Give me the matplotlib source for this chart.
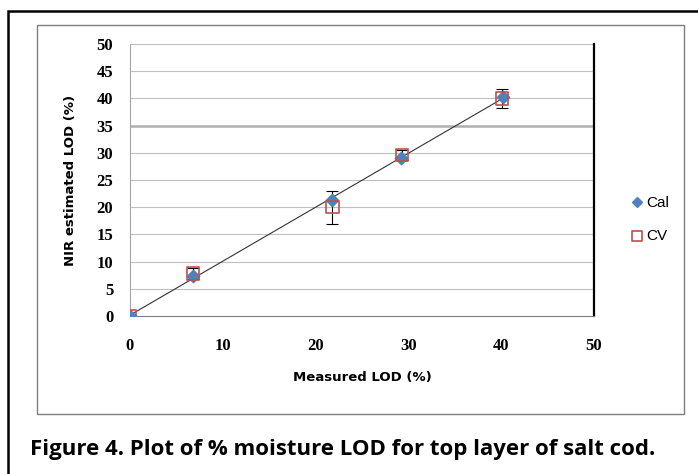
import numpy as np
import matplotlib.pyplot as plt
from matplotlib.patches import Rectangle

# measured vs NIR estimated LOD (%)
cal_x = [0.0, 6.8, 21.8, 29.2, 40.2]
cal_y = [0.0, 7.4, 21.3, 29.0, 40.3]
cv_x = [0.0, 6.8, 21.8, 29.3, 40.1]
cv_y = [0.0, 7.8, 20.0, 29.6, 40.0]
cv_err = [0.0, 1.0, 3.0, 1.0, 1.7]

ticks = [0, 5, 10, 15, 20, 25, 30, 35, 40, 45, 50]
xticks = [0, 10, 20, 30, 40, 50]

blue = '#4F81BD'
red = '#C0504D'

fig = plt.figure(figsize=(6.98, 4.74), dpi=100)

# outer black frame and inner grey chart frame
fig.patches.append(Rectangle((8 / 698, -0.05), 1.0, 1 - 11 / 474 + 0.05,
                             transform=fig.transFigure, fill=False,
                             edgecolor='black', linewidth=1.8))
fig.patches.append(Rectangle((37 / 698, 1 - 414 / 474), (684 - 37) / 698, (414 - 25) / 474,
                             transform=fig.transFigure, fill=False,
                             edgecolor='#7f7f7f', linewidth=1.0))

ax = fig.add_axes([130 / 698, 158 / 474, 464 / 698, 272 / 474])

for t in ticks[1:]:
    ax.axhline(t, color='#bfbfbf' if t != 35 else '#b0b0b0',
               linewidth=0.8 if t != 35 else 1.8, zorder=0)

fit = np.polyfit(cal_x, cal_y, 1)
tx = np.array([cal_x[0], cal_x[-1]])
ax.plot(tx, np.polyval(fit, tx), color='#333333', linewidth=0.8, zorder=2)

ax.errorbar(cv_x, cv_y, yerr=cv_err, fmt='none', ecolor='black',
            elinewidth=0.8, capsize=4, capthick=0.8, zorder=3)
ax.scatter(cal_x, cal_y, marker='D', s=40, color=blue, zorder=4, label='Cal')
ax.scatter(cv_x, cv_y, marker='s', s=80, facecolor='none', edgecolor=red,
           linewidth=1.2, zorder=5, label='CV')

ax.set_xlim(0, 50)
ax.set_ylim(0, 50)
ax.set_xticks(xticks)
ax.set_yticks(ticks)
ax.tick_params(length=0, pad=16, axis='x')
ax.tick_params(length=0, pad=12, axis='y')
for lab in ax.get_xticklabels() + ax.get_yticklabels():
    lab.set_family('Liberation Serif')
    lab.set_fontweight('bold')
    lab.set_fontsize(12)

ax.spines['top'].set_visible(False)
ax.spines['left'].set_color('#a6a6a6')
ax.spines['bottom'].set_color('#7f7f7f')
ax.spines['right'].set_color('black')
ax.spines['right'].set_linewidth(1.6)
for s in ax.spines.values():
    s.set_zorder(1)

ax.set_xlabel('Measured LOD (%)', family='DejaVu Sans', fontweight='bold', fontsize=9.5, labelpad=12)
ax.set_ylabel('NIR estimated LOD (%)', family='DejaVu Sans', fontweight='bold', fontsize=9.5, labelpad=14)

ax.legend(loc='center left', bbox_to_anchor=(1.05, 0.355), frameon=False,
          prop={'family': 'Liberation Sans', 'size': 11}, handletextpad=0.2,
          labelspacing=1.3, handlelength=0.8, markerscale=0.8)

fig.text(30 / 698, 1 - 450 / 474, 'Figure 4. Plot of % moisture LOD for top layer of salt cod.',
         family='Open Sans', fontweight='bold', fontsize=16, va='center', ha='left')

fig.savefig('out.png', dpi=100)
